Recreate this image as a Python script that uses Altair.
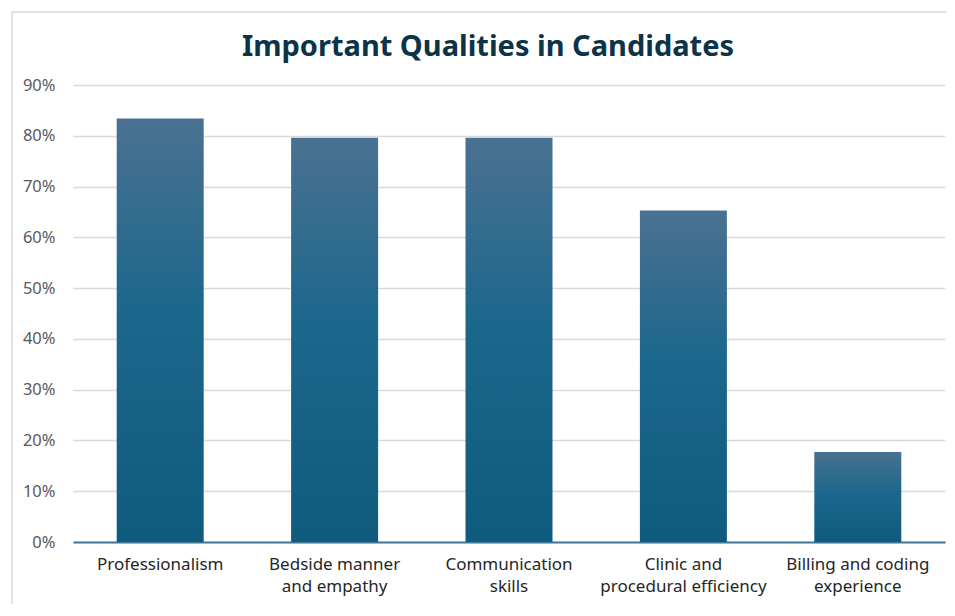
import altair as alt
import pandas as pd

categories = ["Professionalism", "Bedside manner and empathy", "Communication skills",
              "Clinic and procedural efficiency", "Billing and coding experience"]
label_lines = [["Professionalism"], ["Bedside manner", "and empathy"], ["Communication", "skills"],
               ["Clinic and", "procedural efficiency"], ["Billing and coding", "experience"]]
values = [0.834, 0.796, 0.796, 0.653, 0.177]
y_ticks = [0, 0.1, 0.2, 0.3, 0.4, 0.5, 0.6, 0.7, 0.8, 0.9]

df = pd.DataFrame({"category": categories, "value": values})

# build multi-line label expression
expr = "datum.label"
for cat, lines in reversed(list(zip(categories, label_lines))):
    arr = "[" + ",".join("'" + l + "'" for l in lines) + "]"
    expr = f"datum.label == '{cat}' ? {arr} : ({expr})"

grad = alt.Gradient(
    gradient="linear",
    stops=[alt.GradientStop(color="#4a7191", offset=0),
           alt.GradientStop(color="#1c678c", offset=0.45),
           alt.GradientStop(color="#0f5b7d", offset=1)],
    x1=0, x2=0, y1=0, y2=1,
)

one = pd.DataFrame({"a": [0]})
frame_top = alt.Chart(one).mark_rule(stroke="#d9d9d9", strokeWidth=1.5).encode(
    x=alt.value(-61), x2=alt.value(1000), y=alt.value(-73))
frame_left = alt.Chart(one).mark_rule(stroke="#d9d9d9", strokeWidth=1.5).encode(
    x=alt.value(-61), y=alt.value(-73), y2=alt.value(620))

bars = alt.Chart(df).mark_bar(fill=grad, size=87).encode(
    x=alt.X("category:N", sort=categories, title=None,
            scale=alt.Scale(paddingInner=0.5, paddingOuter=0.25),
            axis=alt.Axis(labelAngle=0, labelExpr=expr, labelFontSize=17, labelColor="#262626",
                          labelFont="Noto Sans", labelLineHeight=22, labelPadding=14, ticks=False,
                          domainColor="#3f7898", domainWidth=2, labelBaseline="top")),
    y=alt.Y("value:Q", title=None,
            scale=alt.Scale(domain=[0, 0.9], nice=False),
            axis=alt.Axis(values=y_ticks, format=".0%", labelFontSize=16.5, labelColor="#595959",
                          labelFont="Noto Sans", labelPadding=18, ticks=False, domain=False,
                          gridColor="#d9d9d9", gridWidth=1.3)),
)

chart = alt.layer(frame_top, frame_left, bars).properties(
    width=872, height=457,
    title=alt.TitleParams("Important Qualities in Candidates", font="Noto Sans", fontSize=29,
                          fontWeight="bold", color="#0d3349", anchor="middle", dx=-21,
                          offset=0, dy=51),
    autosize=alt.AutoSizeParams(type="none"),
    padding={"left": 65, "top": 77, "right": 2, "bottom": 62},
).configure_view(stroke=None)

chart.save("out.html", embed_options={"renderer": "svg", "actions": False})
